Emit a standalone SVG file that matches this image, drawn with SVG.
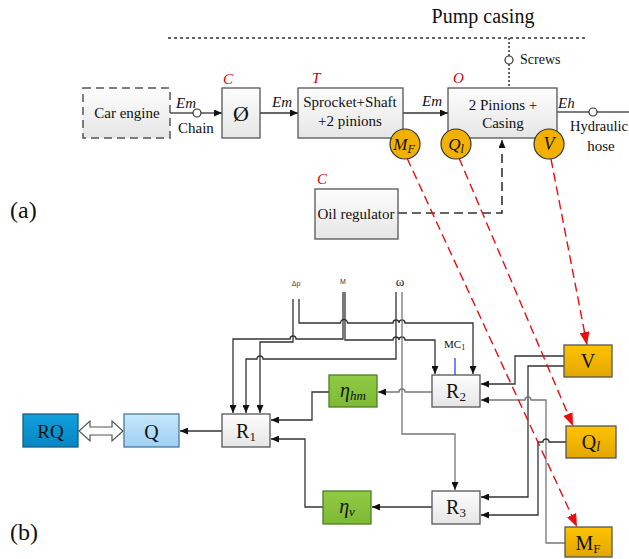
<svg xmlns="http://www.w3.org/2000/svg" width="629" height="559" viewBox="0 0 629 559">
<defs>
<linearGradient id="gGray" x1="0" y1="0" x2="0" y2="1"><stop offset="0" stop-color="#fdfdfd"/><stop offset="1" stop-color="#e6e6e6"/></linearGradient>
<linearGradient id="gYel" x1="0" y1="0" x2="0" y2="1"><stop offset="0" stop-color="#ffc300"/><stop offset="1" stop-color="#e2a700"/></linearGradient>
<linearGradient id="gGreen" x1="0" y1="0" x2="0" y2="1"><stop offset="0" stop-color="#92cb45"/><stop offset="1" stop-color="#7cb934"/></linearGradient>
<linearGradient id="gBlue" x1="0" y1="0" x2="0" y2="1"><stop offset="0" stop-color="#11a0dc"/><stop offset="1" stop-color="#0586c4"/></linearGradient>
<linearGradient id="gLBlue" x1="0" y1="0" x2="0" y2="1"><stop offset="0" stop-color="#c6e7fc"/><stop offset="1" stop-color="#9fd1f4"/></linearGradient>
<marker id="ar" markerUnits="userSpaceOnUse" markerWidth="8" markerHeight="7" refX="8" refY="3.5" orient="auto"><path d="M0,0 L8,3.5 L0,7 z" fill="#111"/></marker>
<marker id="arR" markerUnits="userSpaceOnUse" markerWidth="13" markerHeight="10" refX="13" refY="5" orient="auto"><path d="M0,0 L13,5 L0,10 z" fill="#e51010"/></marker>
</defs>
<style>
.bx{fill:url(#gGray);stroke:#555;stroke-width:1.3}
.yb{fill:url(#gYel);stroke:#555;stroke-width:1.3}
.gb{fill:url(#gGreen);stroke:#4d7f25;stroke-width:1.3}
.t{font-family:"Liberation Serif",serif;fill:#111}
.it{font-style:italic}
.red{fill:#d40000;font-style:italic;font-family:"Liberation Serif",serif;font-size:15px}
.w{fill:none;stroke:#333;stroke-width:1.3}
.wg{fill:none;stroke:#777;stroke-width:1.3}
.rd{fill:none;stroke:#e51010;stroke-width:1.4;stroke-dasharray:9,5}
.cir{fill:#f2b100;stroke:#333;stroke-width:1.2}
.sm{fill:#fff;stroke:#333;stroke-width:1.2}
</style>

<!-- part (a) -->
<text class="t" x="483" y="23" font-size="20" text-anchor="middle">Pump casing</text>
<text class="t" x="10" y="218" font-size="24">(a)</text>
<text class="t" x="10" y="540" font-size="24">(b)</text>

<g id="connectors-a">
<line x1="168" y1="38" x2="585" y2="38" stroke="#333" stroke-width="1.5" stroke-dasharray="3,3"/>
<line x1="509" y1="38" x2="509" y2="56" stroke="#333" stroke-width="1.5" stroke-dasharray="2,2"/>
<line x1="509" y1="64" x2="509" y2="88" stroke="#333" stroke-width="1.5" stroke-dasharray="2,2"/>
<circle class="sm" cx="509" cy="60" r="4"/>
<text class="t" x="520" y="64" font-size="14">Screws</text>
<line class="w" x1="170" y1="113" x2="193" y2="113"/>
<circle class="sm" cx="197" cy="113" r="4"/>
<line class="w" x1="201" y1="113" x2="222" y2="113" marker-end="url(#ar)"/>
<text class="t it" x="176" y="108" font-size="15">Em</text>
<text class="t" x="178" y="133" font-size="15">Chain</text>
<line class="w" x1="260" y1="113" x2="298" y2="113" marker-end="url(#ar)"/>
<text class="t it" x="272" y="107" font-size="15">Em</text>
<line class="w" x1="403" y1="113" x2="448" y2="113" marker-end="url(#ar)"/>
<text class="t it" x="422" y="106" font-size="15">Em</text>
<line class="w" x1="557" y1="112" x2="589" y2="112"/>
<circle class="sm" cx="593" cy="112" r="4"/>
<line class="w" x1="597" y1="112" x2="629" y2="112"/>
<text class="t it" x="558" y="108" font-size="15">Eh</text>
<text class="t" x="570" y="131" font-size="14.5">Hydraulic</text>
<text class="t" x="601" y="151" font-size="15" text-anchor="middle">hose</text>
<path d="M398,213 H502 V150" fill="none" stroke="#333" stroke-width="1.6" stroke-dasharray="9,5"/>
<line class="w" x1="502" y1="148" x2="502" y2="140" marker-end="url(#ar)"/>
</g>

<g id="car-engine">
<rect x="83" y="88" width="87" height="50" fill="url(#gGray)" stroke="#555" stroke-width="1.5" stroke-dasharray="8,5"/>
<text class="t" x="127" y="118" font-size="15" text-anchor="middle">Car engine</text>
</g>
<g id="clutch">
<rect class="bx" x="222" y="88" width="38" height="50"/>
<text class="t" x="241" y="121" font-size="22" text-anchor="middle">Ø</text>
<text class="red" x="223" y="84">C</text>
</g>
<g id="sprocket">
<rect class="bx" x="298" y="88" width="105" height="50"/>
<text class="t" x="350" y="107" font-size="15" text-anchor="middle">Sprocket+Shaft</text>
<text class="t" x="350" y="126" font-size="15" text-anchor="middle">+2 pinions</text>
<text class="red" x="312" y="83">T</text>
</g>
<g id="casing">
<rect class="bx" x="448" y="88" width="109" height="50"/>
<text class="t" x="503" y="110" font-size="15" text-anchor="middle">2 Pinions +</text>
<text class="t" x="503" y="128" font-size="15" text-anchor="middle">Casing</text>
<text class="red" x="453" y="83">O</text>
</g>
<g id="oil-regulator">
<rect class="bx" x="315" y="189" width="83" height="50"/>
<text class="t" x="356" y="219" font-size="15" text-anchor="middle">Oil regulator</text>
<text class="red" x="317" y="184">C</text>
</g>
<g id="circle-MF">
<circle class="cir" cx="405" cy="144" r="15"/>
<text class="t it" x="404" y="150" font-size="17" text-anchor="middle">M<tspan font-size="12" dy="3">F</tspan></text>
</g>
<g id="circle-Ql">
<circle class="cir" cx="456" cy="144" r="15"/>
<text class="t it" x="456" y="150" font-size="17" text-anchor="middle">Q<tspan font-size="12" dy="3">l</tspan></text>
</g>
<g id="circle-V">
<circle class="cir" cx="549" cy="144" r="15"/>
<text class="t it" x="549" y="150" font-size="18" text-anchor="middle">V</text>
</g>

<!-- part (b) -->
<g id="labels-b">
<text x="296" y="286" font-family="Liberation Sans,sans-serif" font-size="7" fill="#333" text-anchor="middle">Δp</text>
<text x="343" y="284" font-family="Liberation Sans,sans-serif" font-size="7" fill="#333" text-anchor="middle">M</text>
<text class="t" x="400" y="286" font-size="13" text-anchor="middle">ω</text>
<text class="t" x="444" y="348" font-size="11">MC<tspan font-size="8" dy="2">1</tspan></text>
</g>

<g id="connectors-b">
<path class="w" d="M299,299 V323 H340.5 a3.5 3.5 0 0 1 7 0 H393 a3 3 0 0 1 6 0 V323 a3 3 0 0 1 6 0 H473 V374" marker-end="url(#ar)"/>
<path class="w" d="M293,299 V342 H260 V413" marker-end="url(#ar)"/>
<path class="w" d="M343,292 V339 H296 a3 3 0 0 0 -6 0 H233 V413" marker-end="url(#ar)"/>
<path class="w" d="M345,292 V340 H393 a3 3 0 0 1 6 0 a3 3 0 0 1 6 0 H435 V374" marker-end="url(#ar)"/>
<path class="w" d="M396,292 V359 H263 a3 3 0 0 0 -6 0 H246 V413" marker-end="url(#ar)"/>
<path class="wg" d="M402,292 V434 H455 V490" marker-end="url(#ar)"/>
<path class="wg" d="M432,392 H405 a3 3 0 0 0 -6 0 H378" marker-end="url(#ar)"/>
<path class="w" d="M329,392 H312 V420 H271" marker-end="url(#ar)"/>
<path class="w" d="M222,431 H180" marker-end="url(#ar)"/>
<path class="w" d="M323,507 H305 V439 H271" marker-end="url(#ar)"/>
<path class="w" d="M432,507 H372" marker-end="url(#ar)"/>
<path class="w" d="M564,356 H515 V384 H481" marker-end="url(#ar)"/>
<path class="w" d="M564,366 H528 V497 H481" marker-end="url(#ar)"/>
<path class="wg" d="M565,543 H546 V400 H531 a3 3 0 0 0 -6 0 H481" marker-end="url(#ar)"/>
<path class="w" d="M566,442 H549 a3 3 0 0 0 -6 0 H538 V515 H481" marker-end="url(#ar)"/>
<line x1="455" y1="358" x2="455" y2="375" stroke="#2233dd" stroke-width="1.2"/>
<path d="M79,431 L90,421 V427 H112 V421 L123,431 L112,441 V435 H90 V441 Z" fill="#fff" stroke="#555" stroke-width="1.2"/>
<line class="rd" x1="407" y1="158" x2="577" y2="527" marker-end="url(#arR)"/>
<line class="rd" x1="459" y1="158" x2="573" y2="426" marker-end="url(#arR)"/>
<line class="rd" x1="551" y1="159" x2="587" y2="345" marker-end="url(#arR)"/>
</g>

<g id="RQ">
<rect x="23" y="414" width="55" height="33" fill="url(#gBlue)" stroke="#1b5d82" stroke-width="1.3"/>
<text class="t" x="50.5" y="438" font-size="19" text-anchor="middle">RQ</text>
</g>
<g id="Q">
<rect x="124" y="414" width="55" height="33" fill="url(#gLBlue)" stroke="#4b7a98" stroke-width="1.3"/>
<text class="t" x="151.5" y="439" font-size="20" text-anchor="middle">Q</text>
</g>
<g id="R1">
<rect class="bx" x="222" y="414" width="48" height="33"/>
<text class="t" x="246" y="438" font-size="20" text-anchor="middle">R<tspan font-size="13" dy="3">1</tspan></text>
</g>
<g id="eta-hm">
<rect class="gb" x="329" y="375" width="48" height="32"/>
<text class="t it" x="353" y="397" font-size="20" text-anchor="middle">η<tspan font-size="13" dy="3">hm</tspan></text>
</g>
<g id="R2">
<rect class="bx" x="432" y="375" width="48" height="32"/>
<text class="t" x="456" y="398" font-size="20" text-anchor="middle">R<tspan font-size="13" dy="3">2</tspan></text>
</g>
<g id="eta-v">
<rect class="gb" x="323" y="491" width="48" height="33"/>
<text class="t it" x="347" y="513" font-size="20" text-anchor="middle">η<tspan font-size="13" dy="3">v</tspan></text>
</g>
<g id="R3">
<rect class="bx" x="432" y="491" width="48" height="33"/>
<text class="t" x="456" y="514" font-size="20" text-anchor="middle">R<tspan font-size="13" dy="3">3</tspan></text>
</g>
<g id="V">
<rect class="yb" x="564" y="345" width="48" height="32"/>
<text class="t" x="588" y="368" font-size="20" text-anchor="middle">V</text>
</g>
<g id="Ql">
<rect class="yb" x="566" y="426" width="50" height="32"/>
<text class="t" x="591" y="449" font-size="20" text-anchor="middle">Q<tspan class="it" font-size="14" dy="2">l</tspan></text>
</g>
<g id="MF">
<rect class="yb" x="565" y="527" width="47" height="30"/>
<text class="t" x="588" y="550" font-size="20" text-anchor="middle">M<tspan font-size="13" dy="3">F</tspan></text>
</g>
</svg>
